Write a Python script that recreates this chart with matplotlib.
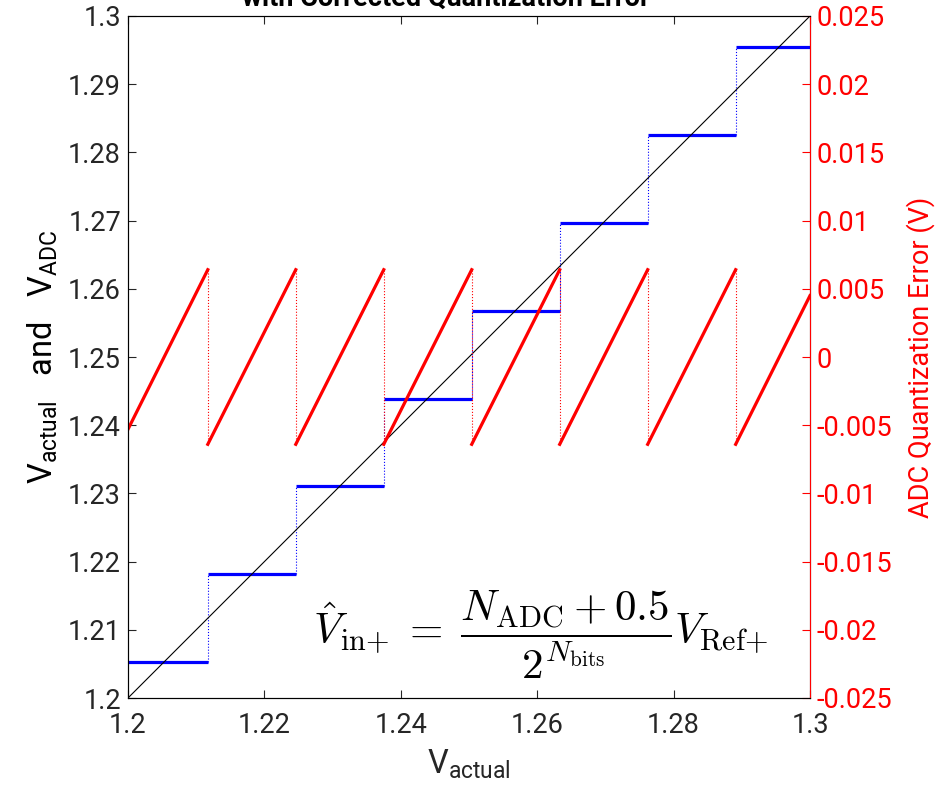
import numpy as np
import matplotlib
matplotlib.use("Agg")
import matplotlib.pyplot as plt

plt.rcParams['font.family'] = ['Roboto', 'DejaVu Sans']
plt.rcParams['mathtext.fontset'] = 'custom'
plt.rcParams['mathtext.rm'] = 'Roboto'
plt.rcParams['mathtext.it'] = 'Roboto'

# ADC step edges (V actual) and output levels
step_edges = [1.2, 1.2117, 1.2246, 1.2375, 1.2504, 1.2633, 1.2762, 1.2891, 1.3]
adc_levels = [1.2053, 1.2182, 1.2311, 1.2439, 1.2568, 1.2697, 1.2826, 1.2955]
# quantization error at the start / end of every step
err_start = [-0.0053, -0.0064, -0.0064, -0.0064, -0.0064, -0.0064, -0.0064, -0.0064]
err_end = [0.0064, 0.0064, 0.0064, 0.0064, 0.0064, 0.0064, 0.0064, 0.0045]

left_ticks = [1.2, 1.21, 1.22, 1.23, 1.24, 1.25, 1.26, 1.27, 1.28, 1.29, 1.3]
right_ticks = [-0.025, -0.02, -0.015, -0.01, -0.005, 0, 0.005, 0.01, 0.015, 0.02, 0.025]
x_ticks = [1.2, 1.22, 1.24, 1.26, 1.28, 1.3]

dark = '#262626'
fs = 19.5

fig = plt.figure(figsize=(9.49, 7.86), dpi=100)
ax1 = fig.add_axes([128/949, 1-698/786, (810-128)/949, (698-16)/786])

# staircase
for i in range(len(adc_levels)):
    ax1.plot([step_edges[i], step_edges[i+1]], [adc_levels[i], adc_levels[i]], color='blue', lw=2.3, solid_capstyle='butt')
    if i < len(adc_levels) - 1:
        ax1.plot([step_edges[i+1], step_edges[i+1]], [adc_levels[i], adc_levels[i+1]], color='blue', lw=0.8, ls=':')
ax1.plot([step_edges[0], step_edges[-1]], [step_edges[0], step_edges[-1]], color='black', lw=0.8)

ax1.set_xlim(1.2, 1.3)
ax1.set_ylim(1.2, 1.3)
ax1.set_xticks(x_ticks)
ax1.set_xticklabels([f'{v:g}' for v in x_ticks])
ax1.set_yticks(left_ticks)
ax1.set_yticklabels([f'{v:g}' for v in left_ticks])
ax1.tick_params(direction='in', length=6, labelsize=fs, colors=dark, top=True, pad=5)
ax1.tick_params(axis='x', pad=10)
for s in ['left', 'bottom', 'top']:
    ax1.spines[s].set_color(dark)

ax1.set_xlabel(r'$\mathrm{V_{actual}}$', fontsize=fs + 4, color=dark, labelpad=6)
ax1.set_ylabel(r'$\mathrm{V_{actual}}$   and   $\mathrm{V_{ADC}}$', fontsize=fs + 4, color='black', labelpad=6)

# error on the right axis
ax2 = ax1.twinx()
for i in range(len(err_start)):
    ax2.plot([step_edges[i], step_edges[i+1]], [err_start[i], err_end[i]], color='red', lw=2.3)
    if i < len(err_start) - 1:
        ax2.plot([step_edges[i+1], step_edges[i+1]], [err_end[i], err_start[i+1]], color='red', lw=0.8, ls=':')
ax2.set_ylim(-0.025, 0.025)
ax2.set_yticks(right_ticks)
ax2.set_yticklabels([f'{v:g}' for v in right_ticks])
ax2.tick_params(axis='y', direction='in', length=6, labelsize=fs, colors='red', pad=5)
ax2.spines['right'].set_color('red')
ax2.set_ylabel('ADC Quantization Error (V)', fontsize=fs, color='red', labelpad=10)

ax1.text(0.605, 0.092, r'$\hat{V}_{{\rm in}{+}} \;=\; \dfrac{N_{\rm ADC} + 0.5}{2^{N_{\rm bits}}} V_{{\rm Ref}{+}}$',
         transform=ax1.transAxes, fontsize=31, math_fontfamily='cm', ha='center', va='center')

fig.text(0.47, 1 - 6/786, 'with Corrected Quantization Error', fontsize=fs, fontweight='bold',
         ha='center', va='baseline', color='black')

fig.savefig('out.png', dpi=100)
